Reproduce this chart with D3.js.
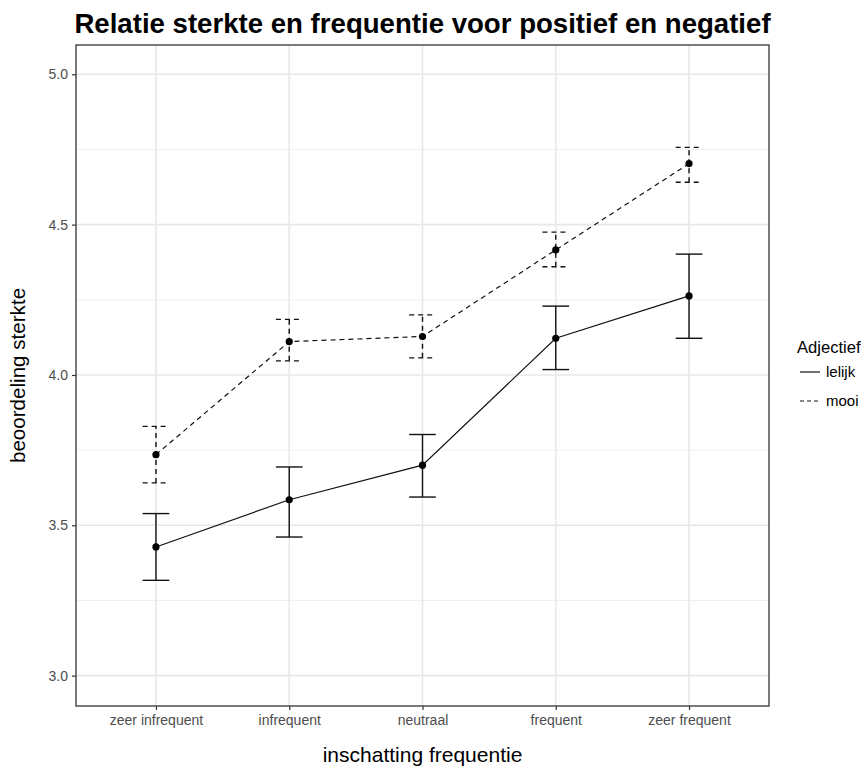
<!DOCTYPE html>
<html>
<head>
<meta charset="utf-8">
<script src="https://cdn.jsdelivr.net/npm/d3@7"></script>
<style>
  body { margin: 0; background: #fff; }
  text { font-family: "Liberation Sans", Arial, sans-serif; }
</style>
</head>
<body>
<svg id="chart" width="866" height="771"></svg>
<script>
var categories = ["zeer infrequent", "infrequent", "neutraal", "frequent", "zeer frequent"];
var lelijkMean = [3.428, 3.585, 3.700, 4.122, 4.263];
var lelijkLow  = [3.317, 3.461, 3.594, 4.018, 4.122];
var lelijkHigh = [3.539, 3.694, 3.802, 4.229, 4.402];
var mooiMean = [3.735, 4.111, 4.128, 4.416, 4.703];
var mooiLow  = [3.641, 4.047, 4.057, 4.360, 4.641];
var mooiHigh = [3.829, 4.185, 4.200, 4.475, 4.757];
var yTicks = [3.0, 3.5, 4.0, 4.5, 5.0];
var yMinor = [3.25, 3.75, 4.25, 4.75];

var series = [
  {name: "lelijk", dash: null, mean: lelijkMean, low: lelijkLow, high: lelijkHigh},
  {name: "mooi", dash: "5,4", mean: mooiMean, low: mooiLow, high: mooiHigh}
];

var svg = d3.select("#chart"),
    panel = {left: 76, right: 769, top: 45, bottom: 706};

var x = d3.scalePoint()
    .domain(categories)
    .range([panel.left, panel.right])
    .padding(0.6);
var y = d3.scaleLinear()
    .domain([2.899, 5.0975])
    .range([panel.bottom, panel.top]);

var capW = x.step() * 0.2;

// grid
var grid = svg.append("g");
grid.selectAll(".minor").data(yMinor).enter().append("line")
    .attr("x1", panel.left).attr("x2", panel.right)
    .attr("y1", d => y(d)).attr("y2", d => y(d))
    .attr("stroke", "#f0f0f0").attr("stroke-width", 1);
grid.selectAll(".major").data(yTicks).enter().append("line")
    .attr("x1", panel.left).attr("x2", panel.right)
    .attr("y1", d => y(d)).attr("y2", d => y(d))
    .attr("stroke", "#e8e8e8").attr("stroke-width", 1.6);
grid.selectAll(".vmajor").data(categories).enter().append("line")
    .attr("x1", d => x(d)).attr("x2", d => x(d))
    .attr("y1", panel.top).attr("y2", panel.bottom)
    .attr("stroke", "#e8e8e8").attr("stroke-width", 1.6);

// series
series.forEach(function(s) {
  var g = svg.append("g");
  var pts = categories.map((c, i) => ({c: c, m: s.mean[i], lo: s.low[i], hi: s.high[i]}));

  g.append("path")
      .datum(pts)
      .attr("fill", "none")
      .attr("stroke", "#111")
      .attr("stroke-width", 1.2)
      .attr("stroke-dasharray", s.dash)
      .attr("d", d3.line().x(d => x(d.c)).y(d => y(d.m)));

  var eb = g.selectAll(".eb").data(pts).enter().append("g");
  eb.append("line")
      .attr("x1", d => x(d.c)).attr("x2", d => x(d.c))
      .attr("y1", d => y(d.lo)).attr("y2", d => y(d.hi));
  eb.append("line")
      .attr("x1", d => x(d.c) - capW / 2).attr("x2", d => x(d.c) + capW / 2)
      .attr("y1", d => y(d.lo)).attr("y2", d => y(d.lo));
  eb.append("line")
      .attr("x1", d => x(d.c) - capW / 2).attr("x2", d => x(d.c) + capW / 2)
      .attr("y1", d => y(d.hi)).attr("y2", d => y(d.hi));
  eb.selectAll("line")
      .attr("stroke", "#111")
      .attr("stroke-width", 1.4)
      .attr("stroke-dasharray", s.dash);

  g.selectAll("circle").data(pts).enter().append("circle")
      .attr("cx", d => x(d.c)).attr("cy", d => y(d.m))
      .attr("r", 3.6).attr("fill", "#000");
});

// panel border
svg.append("rect")
    .attr("x", panel.left).attr("y", panel.top)
    .attr("width", panel.right - panel.left)
    .attr("height", panel.bottom - panel.top)
    .attr("fill", "none").attr("stroke", "#333").attr("stroke-width", 1.3);

// axes
var xAxis = svg.append("g")
    .attr("transform", "translate(0," + panel.bottom + ")")
    .call(d3.axisBottom(x).tickSize(4).tickPadding(5));
var yAxis = svg.append("g")
    .attr("transform", "translate(" + panel.left + ",0)")
    .call(d3.axisLeft(y).tickValues(yTicks).tickFormat(d3.format(".1f")).tickSize(4).tickPadding(4));
[xAxis, yAxis].forEach(function(a) {
  a.select(".domain").remove();
  a.selectAll(".tick line").attr("stroke", "#333").attr("stroke-width", 1.2);
  a.selectAll(".tick text").attr("fill", "#4d4d4d").style("font-size", "14px")
      .style("font-family", "'Liberation Sans', Arial, sans-serif");
});

// titles
var cx = (panel.left + panel.right) / 2;
svg.append("text")
    .attr("x", cx).attr("y", 33)
    .attr("text-anchor", "middle")
    .style("font-size", "27.6px").style("font-weight", "bold")
    .text("Relatie sterkte en frequentie voor positief en negatief");
svg.append("text")
    .attr("x", cx).attr("y", 762)
    .attr("text-anchor", "middle")
    .style("font-size", "21px")
    .text("inschatting frequentie");
svg.append("text")
    .attr("transform", "translate(25," + (panel.top + panel.bottom) / 2 + ") rotate(-90)")
    .attr("text-anchor", "middle")
    .style("font-size", "20.6px")
    .text("beoordeling sterkte");

// legend
var legend = svg.append("g").attr("transform", "translate(797,0)");
legend.append("text")
    .attr("x", 0).attr("y", 353)
    .style("font-size", "16.6px")
    .text("Adjectief");
series.forEach(function(s, i) {
  var ly = 372 + i * 29;
  legend.append("line")
      .attr("x1", 3).attr("x2", 23)
      .attr("y1", ly).attr("y2", ly)
      .attr("stroke", "#111").attr("stroke-width", 1.2)
      .attr("stroke-dasharray", s.dash ? "4,3" : null);
  legend.append("text")
      .attr("x", 29).attr("y", ly + 5)
      .style("font-size", "15px")
      .text(s.name);
});
</script>
</body>
</html>
